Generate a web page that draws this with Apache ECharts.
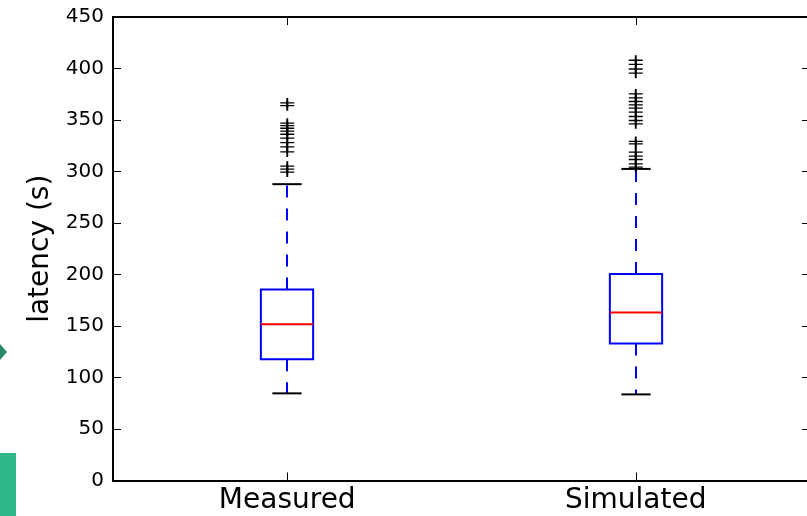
<!DOCTYPE html>
<html>
<head>
<meta charset="utf-8">
<title>latency boxplot</title>
<script src="https://cdn.jsdelivr.net/npm/echarts@6/dist/echarts.min.js"></script>
<style>
  html, body { margin: 0; padding: 0; background: #fff; }
  #chart { width: 807px; height: 516px; }
</style>
</head>
<body>
<div id="chart"></div>
<script>
// Categories along the x axis
const categories = ['Measured', 'Simulated'];

// Box statistics per category: [lower whisker, Q1, median, Q3, upper whisker]
const measuredStats = [84.6, 117.6, 151.6, 185.5, 287.7];
const simulatedStats = [83.6, 133.1, 163.2, 200.4, 302.5];

// Points beyond the upper whisker
const measuredOutliers = [366.6, 363.9, 346.9, 344.5, 342.0, 339.2, 336.2, 332.4, 328.0, 323.9, 319.0, 305.2, 302.3, 299.4];
const simulatedOutliers = [408.0, 404.0, 399.5, 395.5, 375.3, 371.5, 368.0, 364.7, 361.5, 357.6, 353.4, 349.5, 346.3,
                           329.2, 326.8, 318.8, 314.9, 311.7, 307.4, 304.2];

// Y axis ticks
const yTicks = [0, 50, 100, 150, 200, 250, 300, 350, 400, 450];

const statsData = [measuredStats, simulatedStats].map((s, i) => [i].concat(s));
const outlierData = []
  .concat(measuredOutliers.map(v => [0, v]))
  .concat(simulatedOutliers.map(v => [1, v]));

const FONT = 'DejaVu Sans';

function renderBox(params, api) {
  const x = api.value(0);
  const lo = api.coord([x, api.value(1)]);
  const q1 = api.coord([x, api.value(2)]);
  const md = api.coord([x, api.value(3)]);
  const q3 = api.coord([x, api.value(4)]);
  const hi = api.coord([x, api.value(5)]);
  const band = api.size([1, 0])[0];
  const cx = Math.round(lo[0]);
  const halfBox = band * 0.075;
  const halfCap = band * 0.042;
  const blue = '#0000ff';
  const whisker = { stroke: blue, lineWidth: 2, lineDash: [12, 11] };
  const cap = { stroke: '#000', lineWidth: 2 };
  return {
    type: 'group',
    children: [
      { type: 'line', shape: { x1: cx, y1: q3[1], x2: cx, y2: hi[1] }, style: whisker },
      { type: 'line', shape: { x1: cx, y1: q1[1], x2: cx, y2: lo[1] }, style: whisker },
      { type: 'line', shape: { x1: cx - halfCap, y1: hi[1], x2: cx + halfCap, y2: hi[1] }, style: cap },
      { type: 'line', shape: { x1: cx - halfCap, y1: lo[1], x2: cx + halfCap, y2: lo[1] }, style: cap },
      { type: 'rect', shape: { x: cx - halfBox, y: q3[1], width: halfBox * 2, height: q1[1] - q3[1] },
        style: { fill: 'none', stroke: blue, lineWidth: 2 } },
      { type: 'line', shape: { x1: cx - halfBox, y1: md[1], x2: cx + halfBox, y2: md[1] },
        style: { stroke: '#ff0000', lineWidth: 2 } }
    ]
  };
}

const chart = echarts.init(document.getElementById('chart'), null, { renderer: 'canvas' });

const yBase = {
  type: 'value',
  min: 0,
  max: 450,
  interval: 50,
  splitLine: { show: false },
  axisLine: { show: true, onZero: false, lineStyle: { color: '#000', width: 2 } },
  axisTick: { show: true, inside: true, length: 8, lineStyle: { color: '#000', width: 1 } }
};

chart.setOption({
  animation: false,
  backgroundColor: '#ffffff',
  // plot box runs slightly past the right edge of the canvas
  grid: { left: 113, top: 17, width: 697, height: 463.5, containLabel: false, outerBoundsMode: 'none' },
  xAxis: [
    {
      type: 'category',
      data: categories,
      position: 'bottom',
      boundaryGap: true,
      axisLine: { show: true, onZero: false, lineStyle: { color: '#000', width: 2 } },
      axisTick: { show: true, inside: true, alignWithLabel: true, length: 8, lineStyle: { color: '#000', width: 1 } },
      axisLabel: { color: '#000', fontFamily: FONT, fontSize: 28, margin: 6 },
      splitLine: { show: false }
    },
    {
      type: 'category',
      data: categories,
      position: 'top',
      boundaryGap: true,
      axisLine: { show: true, onZero: false, lineStyle: { color: '#000', width: 2 } },
      axisTick: { show: true, inside: true, alignWithLabel: true, length: 8, lineStyle: { color: '#000', width: 1 } },
      axisLabel: { show: false },
      splitLine: { show: false }
    }
  ],
  yAxis: [
    Object.assign({}, yBase, {
      position: 'left',
      name: 'latency (s)',
      nameLocation: 'middle',
      nameGap: 57,
      nameTextStyle: { color: '#000', fontFamily: FONT, fontSize: 28 },
      axisLabel: {
        color: '#000', fontFamily: FONT, fontSize: 20, margin: 9,
        formatter: v => (yTicks.indexOf(v) >= 0 ? String(v) : '')
      }
    }),
    Object.assign({}, yBase, {
      position: 'right',
      axisLabel: { show: false }
    })
  ],
  series: [
    {
      type: 'custom',
      name: 'box',
      xAxisIndex: 0,
      yAxisIndex: 0,
      renderItem: renderBox,
      encode: { x: 0, y: [1, 2, 3, 4, 5] },
      data: statsData,
      z: 2
    },
    {
      type: 'scatter',
      name: 'outliers',
      xAxisIndex: 0,
      yAxisIndex: 0,
      symbol: 'path://M0,5L10,5M5,0L5,10',
      symbolSize: [14, 10],
      itemStyle: { color: 'none', borderColor: '#000', borderWidth: 1.6, opacity: 1 },
      data: outlierData,
      z: 3
    }
  ],
  graphic: [
    {
      type: 'polygon',
      shape: { points: [[0, 344], [7, 352], [0, 360]] },
      style: { fill: '#268a66' },
      silent: true
    },
    {
      type: 'rect',
      shape: { x: 0, y: 453, width: 16, height: 63 },
      style: { fill: '#2eb787' },
      silent: true
    }
  ]
});
</script>
</body>
</html>
